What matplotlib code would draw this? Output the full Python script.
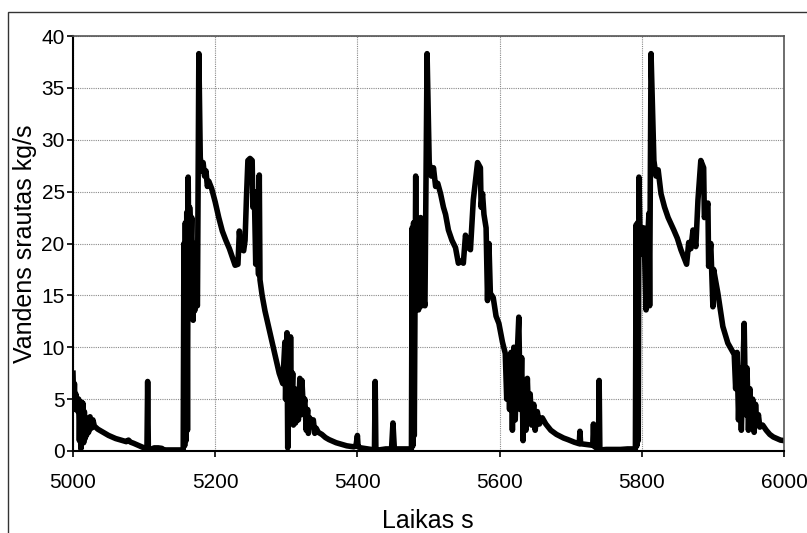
import numpy as np
import matplotlib
matplotlib.use("Agg")
import matplotlib.pyplot as plt
from matplotlib.patches import Rectangle

plt.rcParams['font.family'] = ['Liberation Sans', 'DejaVu Sans']

#------------------------------------------------------------------------
# Vandens srautas (laikas s, kg/s)

# Pradzia: nuo 5000 s iki pirmo ciklo
pradzia = [(5000, 7.5), (5001, 4.5), (5002, 6.5), (5003, 4.0), (5004, 5.5),
           (5006, 4.8), (5007, 3.8), (5008, 5.0), (5009, 1.0), (5010, 4.5),
           (5011, 0.2), (5012, 4.7), (5013, 2.0), (5014, 4.6), (5015, 0.8),
           (5016, 3.8), (5017, 1.2), (5018, 3.2), (5019, 1.5), (5020, 2.9),
           (5022, 1.8), (5024, 3.3), (5026, 2.2), (5028, 3.0), (5030, 2.4),
           (5035, 2.1), (5040, 1.9), (5045, 1.7), (5050, 1.5), (5055, 1.35),
           (5060, 1.2), (5065, 1.1), (5070, 1.0), (5075, 0.9), (5078, 1.05),
           (5081, 0.85), (5085, 0.75), (5090, 0.6), (5095, 0.45), (5100, 0.3),
           (5104, 0.1), (5105, 6.7), (5106, 0.1), (5110, 0.15), (5114, 0.3),
           (5120, 0.3), (5125, 0.25), (5128, 0.1), (5135, 0.1), (5145, 0.1),
           (5155, 0.1)]

# 1 ciklas
ciklas1 = [(5156, 20.0), (5157, 0.5), (5158, 22.0), (5159, 1.0), (5160, 23.0),
           (5161, 2.0), (5162, 26.4), (5163, 18.0), (5164, 23.5), (5166, 20.0),
           (5167, 22.5), (5169, 12.6), (5170, 20.0), (5171, 13.5), (5173, 14.5),
           (5175, 14.0), (5177, 38.3), (5179, 28.3), (5181, 27.0), (5183, 27.8),
           (5185, 26.5), (5187, 27.0), (5189, 25.5), (5191, 26.0), (5195, 25.3),
           (5200, 24.0), (5205, 22.5), (5210, 21.2), (5215, 20.3), (5220, 19.5),
           (5225, 18.5), (5228, 17.9), (5232, 18.0), (5234, 21.2), (5236, 19.5),
           (5240, 19.3), (5242, 20.3), (5244, 24.5), (5246, 28.0), (5249, 28.2),
           (5252, 28.0), (5253, 23.5), (5255, 25.0), (5257, 18.0), (5259, 21.0),
           (5261, 17.0), (5262, 26.6), (5263, 16.5), (5266, 15.0), (5270, 13.5),
           (5275, 12.0), (5280, 10.5), (5285, 9.0), (5290, 7.5), (5295, 6.5),
           (5298, 10.5), (5299, 5.0), (5301, 11.4), (5302, 0.3), (5304, 9.0),
           (5305, 3.0), (5306, 11.0), (5307, 4.0), (5309, 7.5), (5310, 2.5),
           (5312, 6.0), (5313, 2.7), (5315, 5.0), (5317, 3.0), (5319, 7.0),
           (5321, 3.5), (5322, 6.8), (5324, 4.0), (5326, 5.0), (5328, 2.0),
           (5330, 4.0), (5331, 1.7), (5333, 3.2), (5335, 2.5), (5338, 3.0),
           (5340, 1.7), (5342, 2.2), (5345, 1.8), (5350, 1.6), (5355, 1.3),
           (5360, 1.1), (5365, 0.95), (5370, 0.8), (5375, 0.7), (5380, 0.6),
           (5385, 0.5), (5390, 0.45), (5395, 0.4), (5398, 0.5), (5400, 1.5),
           (5401, 0.4), (5405, 0.3), (5410, 0.25), (5415, 0.2), (5420, 0.15),
           (5424, 0.1), (5425, 6.7), (5426, 0.1), (5430, 0.1), (5440, 0.2),
           (5448, 0.2), (5450, 2.7), (5452, 0.2), (5460, 0.2), (5470, 0.2),
           (5476, 0.2)]

# 2 ciklas
ciklas2 = [(5477, 21.5), (5478, 0.5), (5479, 22.0), (5480, 1.5), (5482, 26.5),
           (5483, 14.0), (5485, 21.0), (5486, 13.6), (5489, 22.5), (5491, 14.0),
           (5493, 14.8), (5495, 14.0), (5498, 38.3), (5501, 27.8), (5504, 26.5),
           (5507, 27.3), (5510, 25.5), (5513, 25.8), (5517, 24.8), (5521, 23.5),
           (5524, 22.8), (5528, 21.3), (5533, 20.3), (5538, 19.6), (5542, 18.1),
           (5546, 18.3), (5549, 18.1), (5552, 20.8), (5556, 19.6), (5559, 19.4),
           (5563, 24.2), (5569, 27.8), (5573, 27.3), (5574, 23.5), (5576, 24.8),
           (5578, 22.8), (5581, 21.5), (5583, 14.5), (5585, 20.0), (5587, 15.2),
           (5591, 14.8), (5595, 13.0), (5599, 12.3), (5604, 10.5), (5608, 9.4),
           (5610, 5.0),
           (5612, 8.5), (5614, 4.0), (5616, 9.5), (5618, 2.0), (5620, 10.0),
           (5622, 3.0), (5624, 8.0), (5627, 12.9), (5629, 4.0), (5631, 9.0),
           (5633, 1.0), (5635, 6.5), (5637, 2.0), (5639, 7.0), (5641, 3.0),
           (5643, 5.5), (5645, 2.5), (5648, 4.5), (5650, 2.0), (5653, 3.8),
           (5656, 2.6), (5660, 3.2), (5665, 2.6), (5672, 2.0), (5680, 1.6),
           (5690, 1.25), (5696, 1.1), (5705, 0.85), (5712, 0.7), (5713, 1.9),
           (5714, 0.7), (5720, 0.65), (5726, 0.6), (5731, 0.55), (5732, 2.6),
           (5733, 0.45), (5736, 0.3), (5739, 0.1), (5740, 6.8), (5741, 0.1),
           (5750, 0.15), (5760, 0.15), (5770, 0.15), (5780, 0.2), (5791, 0.2)]

# 3 ciklas
ciklas3 = [(5792, 21.8), (5793, 0.5), (5794, 22.0), (5795, 1.0), (5796, 26.4),
           (5798, 19.0), (5800, 21.5), (5801, 19.0), (5803, 21.5), (5806, 13.6),
           (5808, 20.0), (5810, 22.9), (5811, 14.0), (5813, 38.3), (5817, 28.0),
           (5820, 26.5), (5823, 27.1), (5827, 24.8), (5832, 23.5), (5837, 22.5),
           (5845, 21.3), (5850, 20.5), (5855, 19.4), (5863, 18.0), (5866, 20.1),
           (5869, 19.5), (5872, 21.3), (5876, 19.7), (5879, 24.2), (5883, 28.0),
           (5887, 27.3), (5888, 22.5), (5893, 23.9), (5894, 17.8), (5897, 20.0),
           (5900, 13.9), (5901, 17.5), (5907, 15.2), (5914, 12.0), (5921, 10.4),
           (5930, 9.3), (5932, 6.0), (5934, 9.5), (5936, 3.0), (5938, 8.0),
           (5940, 2.0), (5942, 7.0), (5944, 12.3), (5946, 3.5), (5948, 8.0),
           (5950, 2.0), (5952, 6.0), (5954, 2.8), (5956, 5.0), (5958, 1.8),
           (5960, 4.5), (5962, 2.5), (5964, 3.5), (5966, 2.3), (5970, 2.5),
           (5975, 2.0), (5980, 1.6), (5985, 1.35), (5990, 1.2), (5995, 1.05),
           (6000, 1.0)]

x_ticks = [5000, 5200, 5400, 5600, 5800, 6000]
y_ticks = [0, 5, 10, 15, 20, 25, 30, 35, 40]

#------------------------------------------------------------------------
#!Grafikas

duomenys = np.array(pradzia + ciklas1 + ciklas2 + ciklas3)
laikas = duomenys[:, 0]
srautas = duomenys[:, 1]

W, H = 807, 533
fig = plt.figure(figsize=(W / 100, H / 100), dpi=100)
ax = fig.add_axes([73 / W, 1 - 451 / H, (784 - 73) / W, (451 - 36) / H])

ax.plot(laikas, srautas, color="black", lw=4)

ax.set_xlim(5000, 6000)
ax.set_ylim(0, 40)
ax.set_xticks(x_ticks)
ax.set_yticks(y_ticks)
ax.grid(True, color="#8a8a8a", linestyle=(0, (1, 1)), lw=0.8)
ax.set_axisbelow(True)

for s in ["left", "bottom"]:
    ax.spines[s].set_color("black")
    ax.spines[s].set_linewidth(1.5)
for s in ["top", "right"]:
    ax.spines[s].set_color("#555555")
    ax.spines[s].set_linewidth(1.2)

ax.tick_params(direction="out", length=4.5, width=1.2, labelsize=15, colors="black")
ax.tick_params(axis="x", pad=11)
ax.tick_params(axis="y", pad=1.5)

ax.set_ylabel("Vandens srautas kg/s", fontsize=18, labelpad=3)
fig.text(428 / W, 1 - 521 / H, "Laikas s", ha="center", va="center", fontsize=18)

# remelis aplink visa grafika
fig.add_artist(Rectangle((8 / W, -0.1), 1.2, 1.1 - 12 / H,
                         transform=fig.transFigure, fill=False,
                         ec="#333333", lw=1))

plt.savefig("out.png", dpi=100)
